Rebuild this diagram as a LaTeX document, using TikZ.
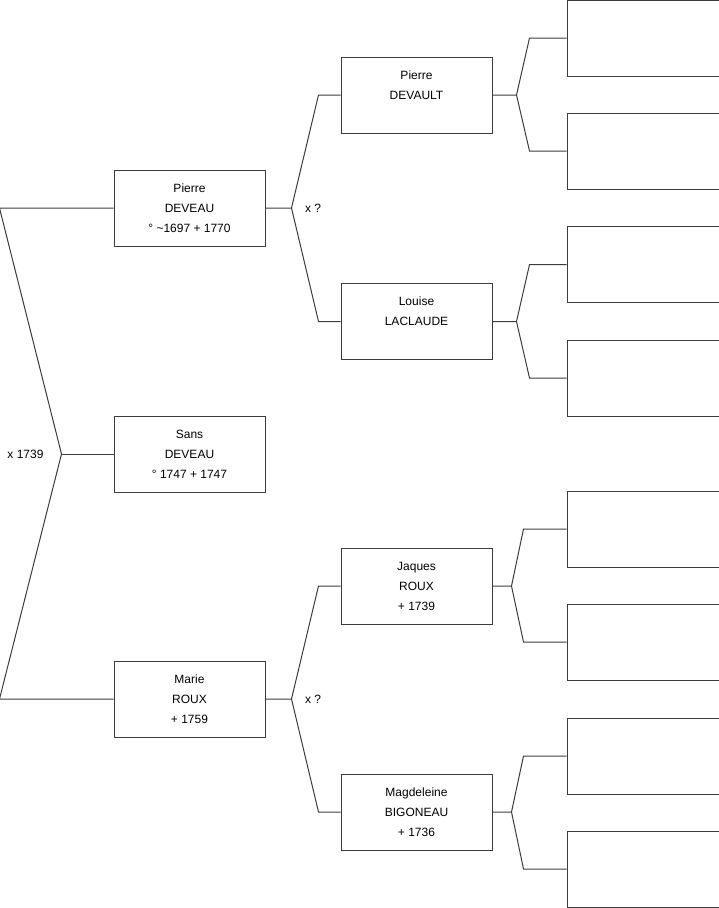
\documentclass[tikz,border=0pt]{standalone}
\usepackage{fontspec}
\setmainfont{Liberation Sans}
\usepackage{tikz}
\definecolor{lijn}{RGB}{60,60,60}

\begin{document}
\begin{tikzpicture}[x=1pt, y=-1pt, line width=1pt, draw=lijn,
                font=\fontsize{12}{20}\selectfont,
                pers/.style={draw=lijn, minimum width=151pt, minimum height=76pt, inner sep=0pt, align=center},
                leeg/.style={draw=lijn, minimum width=152pt, minimum height=76pt, inner sep=0pt},
                etiq/.style={inner sep=3pt}]

            \useasboundingbox (0,0) rectangle (719,908);

            % generation 1
            \node[pers] (deveau) at (189.5, 208) {Pierre\\DEVEAU\\° \textasciitilde1697 + 1770};
            \node[pers] (sans) at (189.5, 454) {Sans\\DEVEAU\\° 1747 + 1747};
            \node[pers] (roux) at (189.5, 699) {Marie\\ROUX\\+ 1759};

            % generation 2
            \node[pers] (devault) at (416.5, 95) {Pierre\\DEVAULT\\\mbox{}};
            \node[pers] (laclaude) at (416.5, 321.5) {Louise\\LACLAUDE\\\mbox{}};
            \node[pers] (jroux) at (416.5, 586) {Jaques\\ROUX\\+ 1739};
            \node[pers] (bigoneau) at (416.5, 812) {Magdeleine\\BIGONEAU\\+ 1736};

            % generation 3 (vide)
            \node[leeg] (e1) at (643, 38) {};
            \node[leeg] (e2) at (643, 151) {};
            \node[leeg] (e3) at (643, 264.5) {};
            \node[leeg] (e4) at (643, 378) {};
            \node[leeg] (e5) at (643, 529) {};
            \node[leeg] (e6) at (643, 642) {};
            \node[leeg] (e7) at (643, 756) {};
            \node[leeg] (e8) at (643, 869) {};

            % mariage des parents
            \draw (sans.west) -- ++(-52,0) coordinate (mar);
            \draw (deveau.west) -- ([xshift=-114]deveau.west) -- (mar) -- ([xshift=-114]roux.west) -- (roux.west);
            \node[etiq] (x1739) at ([xshift=-36]mar) {x 1739};

            % parents de Pierre
            \draw (deveau.east) -- ++(26,0) coordinate (m1) -- ([xshift=-22]devault.west) -- (devault.west);
            \draw (m1) -- ([xshift=-22]laclaude.west) -- (laclaude.west);
            \node[etiq, anchor=west] (xq1) at ([xshift=10]m1) {x ?};

            % parents de Marie
            \draw (roux.east) -- ++(26,0) coordinate (m2) -- ([xshift=-22]jroux.west) -- (jroux.west);
            \draw (m2) -- ([xshift=-22]bigoneau.west) -- (bigoneau.west);
            \node[etiq, anchor=west] (xq2) at ([xshift=10]m2) {x ?};

            % grands-parents
            \draw (devault.east) -- ++(24,0) coordinate (k1) -- ([xshift=-37]e1.west) -- (e1.west);
            \draw (k1) -- ([xshift=-37]e2.west) -- (e2.west);
            \draw (laclaude.east) -- ++(24,0) coordinate (k2) -- ([xshift=-37]e3.west) -- (e3.west);
            \draw (k2) -- ([xshift=-37]e4.west) -- (e4.west);
            \draw (jroux.east) -- ++(19,0) coordinate (k3) -- ([xshift=-43]e5.west) -- (e5.west);
            \draw (k3) -- ([xshift=-43]e6.west) -- (e6.west);
            \draw (bigoneau.east) -- ++(19,0) coordinate (k4) -- ([xshift=-43]e7.west) -- (e7.west);
            \draw (k4) -- ([xshift=-43]e8.west) -- (e8.west);

        \end{tikzpicture}
\end{document}
